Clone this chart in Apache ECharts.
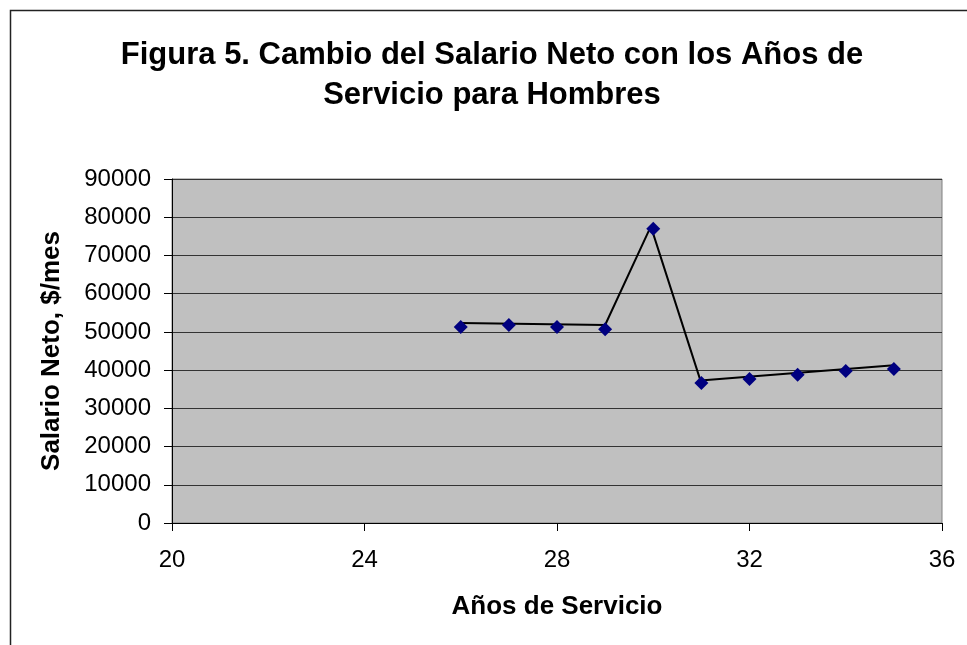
<!DOCTYPE html>
<html>
<head>
<meta charset="utf-8">
<script src="https://cdn.jsdelivr.net/npm/echarts@6/dist/echarts.min.js"></script>
<style>
html,body{margin:0;padding:0;background:#fff;}
#chart{width:967px;height:645px;}
</style>
</head>
<body>
<div id="chart"></div>
<script>
// Marker data
const years = [26, 27, 28, 29, 30, 31, 32, 33, 34, 35];
const salary = [51300, 51800, 51300, 50700, 77000, 36600, 37700, 38800, 39800, 40300];
// Connecting line (drawn as its own series in the original)
const lineYears = [26, 29, 29.95, 30.98, 35];
const lineSalary = [52300, 51800, 77600, 37300, 41300];
const xTicks = [20, 24, 28, 32, 36];
const yTicks = [0, 10000, 20000, 30000, 40000, 50000, 60000, 70000, 80000, 90000];
const titleLines = ['Figura 5. Cambio del Salario Neto con los Años de', 'Servicio para Hombres'];
const xName = 'Años de Servicio';
const yName = 'Salario Neto, $/mes';

const FONT = "'Liberation Sans', Arial, sans-serif";
const chart = echarts.init(document.getElementById('chart'), null, {renderer: 'canvas'});

const markerData = years.map((x, i) => [x, salary[i]]);
const lineData = lineYears.map((x, i) => [x, lineSalary[i]]);

chart.setOption({
  animation: false,
  backgroundColor: '#ffffff',
  graphic: [
    {type: 'rect', shape: {x: 10.5, y: 10.5, width: 1000, height: 700},
     style: {fill: 'none', stroke: '#222', lineWidth: 1.5}, z: -10},
    {type: 'text', x: 492, y: 55, style: {text: titleLines[0], textAlign: 'center', textVerticalAlign: 'middle',
      font: "bold 31px " + FONT, fill: '#000'}},
    {type: 'text', x: 492, y: 95, style: {text: titleLines[1], textAlign: 'center', textVerticalAlign: 'middle',
      font: "bold 31px " + FONT, fill: '#000'}}
  ],
  grid: {left: 172, top: 179, right: 25, bottom: 122, show: true, backgroundColor: '#C0C0C0',
         borderColor: '#808080', borderWidth: 1, containLabel: false},
  xAxis: {
    type: 'value', min: xTicks[0], max: xTicks[xTicks.length - 1], interval: 4,
    name: xName, nameLocation: 'middle', nameGap: 71,
    nameTextStyle: {fontFamily: FONT, fontWeight: 'bold', fontSize: 26, color: '#000'},
    axisLine: {show: true, onZero: false, lineStyle: {color: '#000', width: 1}},
    axisTick: {show: true, inside: false, length: 8, lineStyle: {color: '#000'}},
    axisLabel: {fontFamily: FONT, fontSize: 24, color: '#000', margin: 25},
    splitLine: {show: false}
  },
  yAxis: {
    type: 'value', min: yTicks[0], max: yTicks[yTicks.length - 1], interval: 10000,
    name: yName, nameLocation: 'middle', nameGap: 107, nameRotate: 90,
    nameTextStyle: {fontFamily: FONT, fontWeight: 'bold', fontSize: 26, color: '#000'},
    axisLine: {show: true, lineStyle: {color: '#000', width: 1}},
    axisTick: {show: true, inside: false, length: 8, lineStyle: {color: '#000'}},
    axisLabel: {fontFamily: FONT, fontSize: 24, color: '#000', margin: 21, formatter: v => String(v)},
    splitLine: {show: true, lineStyle: {color: '#333', width: 1}}
  },
  series: [
    {type: 'line', data: lineData, symbol: 'none', lineStyle: {color: '#000', width: 2}, z: 2},
    {type: 'scatter', data: markerData, symbol: 'diamond', symbolSize: 14,
     itemStyle: {color: '#000080', opacity: 1}, z: 3}
  ]
});
</script>
</body>
</html>
